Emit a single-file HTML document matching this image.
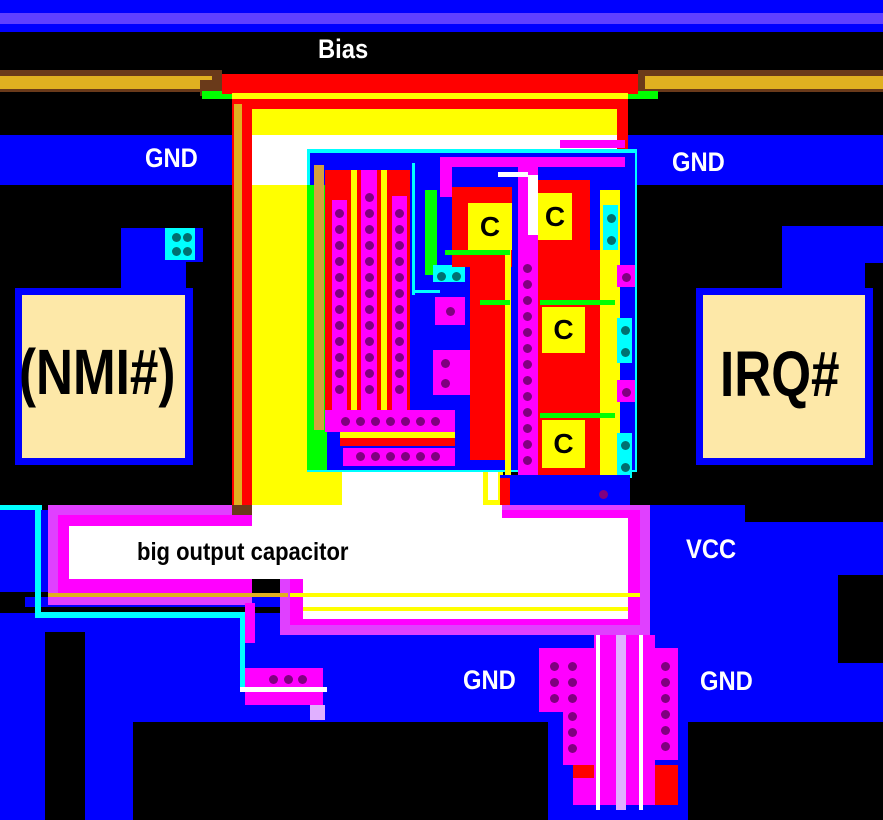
<!DOCTYPE html>
<html><head><meta charset="utf-8"><style>
body{margin:0;width:883px;height:820px;background:#000;overflow:hidden;position:relative;font-family:"Liberation Sans",sans-serif;font-weight:bold}
div{position:absolute;box-sizing:border-box}
.t{color:#fff;font-size:27px;white-space:nowrap;line-height:1;transform:scaleX(0.88);transform-origin:0 0}
.dot{width:9px;height:9px;border-radius:50%;background:#800080}
.td{width:9px;height:9px;border-radius:50%;background:#007070}
.c{font-size:28px;color:#000;display:flex;align-items:center;justify-content:center;background:#ff0}
</style></head><body>
<!-- top bands -->
<div style="left:0;top:0;width:883px;height:32px;background:#0000ff"></div>
<div style="left:0;top:13px;width:883px;height:11px;background:#6040ff"></div>
<div class="t" style="left:318px;top:36px">Bias</div>
<!-- orange bars -->
<div style="left:0;top:70px;width:222px;height:22px;background:#6a3a1a"></div>
<div style="left:0;top:76px;width:212px;height:13px;background:#e0b020"></div>
<div style="left:200px;top:80px;width:22px;height:16px;background:#6a3a1a"></div>
<div style="left:202px;top:91px;width:30px;height:8px;background:#00ff00"></div>
<div style="left:638px;top:70px;width:245px;height:22px;background:#6a3a1a"></div>
<div style="left:645px;top:76px;width:238px;height:13px;background:#e0b020"></div>
<div style="left:628px;top:91px;width:30px;height:8px;background:#00ff00"></div>
<!-- GND blue bands -->
<div style="left:0;top:135px;width:240px;height:50px;background:#0000ff"></div>
<div style="left:628px;top:135px;width:255px;height:50px;background:#0000ff"></div>
<div class="t" style="left:145px;top:145px">GND</div>
<div class="t" style="left:672px;top:149px">GND</div>
<!-- red big -->
<div style="left:222px;top:74px;width:416px;height:20px;background:#ff0000"></div>
<div style="left:232px;top:93px;width:396px;height:6px;background:#ff0"></div>
<div style="left:232px;top:99px;width:396px;height:50px;background:#ff0000"></div>
<div style="left:232px;top:99px;width:20px;height:420px;background:#ff0000"></div>
<div style="left:234px;top:104px;width:8px;height:410px;background:#e0b020"></div>
<div style="left:252px;top:109px;width:365px;height:26px;background:#ff0"></div>
<div style="left:252px;top:135px;width:365px;height:15px;background:#fff"></div>
<div style="left:252px;top:150px;width:56px;height:35px;background:#fff"></div>
<div style="left:252px;top:185px;width:56px;height:290px;background:#ff0"></div>
<div style="left:252px;top:470px;width:90px;height:40px;background:#ff0"></div>
<div style="left:560px;top:140px;width:65px;height:8px;background:#f0f"></div>
<div style="left:342px;top:472px;width:141px;height:40px;background:#fff"></div>
<div style="left:483px;top:470px;width:20px;height:40px;background:#ff0"></div>
<div style="left:488px;top:470px;width:10px;height:30px;background:#fff"></div>
<!-- inner block -->
<div style="left:307px;top:149px;width:330px;height:323px;background:#00ffff"></div>
<div style="left:310px;top:153px;width:325px;height:317px;background:#0000ff"></div>
<div style="left:307px;top:185px;width:20px;height:285px;background:#00ff00"></div>
<div style="left:314px;top:165px;width:10px;height:265px;background:#d4a040"></div>
<div style="left:325px;top:170px;width:85px;height:262px;background:#ff0000"></div>
<div style="left:351px;top:170px;width:6px;height:240px;background:#ff0"></div>
<div style="left:381px;top:170px;width:6px;height:240px;background:#ff0"></div>
<div style="left:332px;top:200px;width:15px;height:210px;background:#f0f"></div>
<div style="left:361px;top:170px;width:16px;height:245px;background:#f0f"></div>
<div style="left:392px;top:196px;width:15px;height:215px;background:#f0f"></div>
<div style="left:325px;top:410px;width:130px;height:22px;background:#f0f"></div>
<div style="left:340px;top:432px;width:115px;height:6px;background:#ff0"></div>
<div style="left:340px;top:438px;width:115px;height:8px;background:#ff0000"></div>
<div style="left:343px;top:448px;width:112px;height:18px;background:#f0f"></div>
<div style="left:412px;top:163px;width:3px;height:132px;background:#00ffff"></div>
<div style="left:415px;top:290px;width:25px;height:3px;background:#00ffff"></div>
<div style="left:425px;top:190px;width:12px;height:85px;background:#00ff00"></div>
<div style="left:433px;top:265px;width:32px;height:17px;background:#00ffff"></div>
<div style="left:435px;top:297px;width:30px;height:28px;background:#f0f"></div>
<div style="left:433px;top:350px;width:50px;height:45px;background:#f0f"></div>
<div style="left:440px;top:157px;width:185px;height:10px;background:#f0f"></div>
<div style="left:440px;top:157px;width:12px;height:40px;background:#f0f"></div>
<!-- C area reds -->
<div style="left:452px;top:187px;width:60px;height:80px;background:#ff0000"></div>
<div style="left:525px;top:180px;width:65px;height:70px;background:#ff0000"></div>
<div style="left:470px;top:260px;width:40px;height:200px;background:#ff0000"></div>
<div style="left:538px;top:250px;width:80px;height:120px;background:#ff0000"></div>
<div style="left:538px;top:368px;width:80px;height:112px;background:#ff0000"></div>
<div style="left:600px;top:190px;width:20px;height:290px;background:#ff0"></div>
<div style="left:505px;top:250px;width:6px;height:230px;background:#ff0"></div>
<div style="left:480px;top:300px;width:30px;height:5px;background:#00ff00"></div>
<div style="left:445px;top:250px;width:65px;height:5px;background:#00ff00"></div>
<div style="left:540px;top:300px;width:75px;height:5px;background:#00ff00"></div>
<div style="left:540px;top:413px;width:75px;height:5px;background:#00ff00"></div>
<div style="left:518px;top:157px;width:20px;height:320px;background:#f0f"></div>
<div style="left:498px;top:172px;width:30px;height:5px;background:#fff"></div>
<div style="left:528px;top:175px;width:10px;height:60px;background:#fff"></div>
<div class="c" style="left:468px;top:203px;width:44px;height:47px">C</div>
<div class="c" style="left:538px;top:193px;width:34px;height:47px">C</div>
<div class="c" style="left:542px;top:307px;width:43px;height:46px">C</div>
<div class="c" style="left:542px;top:420px;width:43px;height:48px">C</div>
<div style="left:603px;top:205px;width:15px;height:45px;background:#00ffff"></div>
<div style="left:617px;top:318px;width:15px;height:45px;background:#00ffff"></div>
<div style="left:617px;top:433px;width:15px;height:45px;background:#00ffff"></div>
<div style="left:617px;top:265px;width:18px;height:22px;background:#f0f"></div>
<div style="left:617px;top:380px;width:18px;height:22px;background:#f0f"></div>
<div style="left:593px;top:485px;width:20px;height:18px;background:#f0f"></div>
<div style="left:500px;top:475px;width:130px;height:30px;background:#0000ff"></div>
<div style="left:500px;top:478px;width:10px;height:30px;background:#ff0000"></div>
<!-- NMI -->
<div style="left:121px;top:228px;width:82px;height:34px;background:#0000ff"></div>
<div style="left:121px;top:260px;width:65px;height:32px;background:#0000ff"></div>
<div style="left:165px;top:228px;width:30px;height:32px;background:#00ffff"></div>
<div style="left:15px;top:288px;width:178px;height:177px;background:#0000ff"></div>
<div style="left:22px;top:295px;width:163px;height:163px;background:#fde8a8"></div>
<div style="left:19px;top:340px;font-size:64px;line-height:1;color:#000;white-space:nowrap;transform:scaleX(0.8);transform-origin:0 0">(NMI#)</div>
<!-- IRQ -->
<div style="left:782px;top:226px;width:101px;height:64px;background:#0000ff"></div>
<div style="left:865px;top:263px;width:18px;height:27px;background:#000"></div>
<div style="left:696px;top:288px;width:177px;height:177px;background:#0000ff"></div>
<div style="left:703px;top:295px;width:162px;height:163px;background:#fde8a8"></div>
<div style="left:720px;top:342px;font-size:64px;line-height:1;color:#000;white-space:nowrap;transform:scaleX(0.8);transform-origin:0 0">IRQ#</div>
<!-- bottom blue -->
<div style="left:0;top:510px;width:48px;height:82px;background:#0000ff"></div>
<div style="left:650px;top:505px;width:95px;height:70px;background:#0000ff"></div>
<div style="left:650px;top:522px;width:233px;height:53px;background:#0000ff"></div>
<div class="t" style="left:686px;top:536px">VCC</div>
<div style="left:0;top:613px;width:883px;height:110px;background:#0000ff"></div>
<div style="left:650px;top:575px;width:188px;height:40px;background:#0000ff"></div>
<div style="left:838px;top:613px;width:45px;height:50px;background:#000"></div>
<div style="left:0;top:720px;width:883px;height:100px;background:#0000ff"></div>
<div style="left:45px;top:632px;width:40px;height:188px;background:#000"></div>
<div style="left:133px;top:722px;width:415px;height:98px;background:#000"></div>
<div style="left:688px;top:722px;width:195px;height:98px;background:#000"></div>
<div style="left:25px;top:597px;width:635px;height:10px;background:#0000ff"></div>
<!-- capacitor -->
<div style="left:48px;top:505px;width:204px;height:100px;background:#e040ff"></div>
<div style="left:232px;top:505px;width:20px;height:10px;background:#6a3a1a"></div>
<div style="left:280px;top:505px;width:370px;height:130px;background:#e040ff"></div>
<div style="left:58px;top:515px;width:194px;height:80px;background:#f0f"></div>
<div style="left:290px;top:510px;width:350px;height:115px;background:#f0f"></div>
<div style="left:69px;top:526px;width:559px;height:53px;background:#fff"></div>
<div style="left:252px;top:505px;width:250px;height:25px;background:#fff"></div>
<div style="left:502px;top:518px;width:126px;height:15px;background:#fff"></div>
<div style="left:303px;top:579px;width:325px;height:40px;background:#fff"></div>
<div style="left:290px;top:593px;width:350px;height:4px;background:#ff0"></div>
<div style="left:48px;top:593px;width:240px;height:4px;background:#e0b020"></div>
<div style="left:303px;top:607px;width:325px;height:4px;background:#ff0"></div>
<div style="left:303px;top:597px;width:325px;height:10px;background:#fff"></div>
<div style="left:137px;top:540px;font-size:25px;line-height:1;color:#000;white-space:nowrap;transform:scaleX(0.88);transform-origin:0 0">big output capacitor</div>
<!-- cyan wire -->
<div style="left:0;top:505px;width:42px;height:5px;background:#00ffff"></div>
<div style="left:35px;top:505px;width:6px;height:113px;background:#00ffff"></div>
<div style="left:35px;top:612px;width:210px;height:6px;background:#00ffff"></div>
<div style="left:240px;top:612px;width:5px;height:80px;background:#00ffff"></div>
<div style="left:245px;top:603px;width:10px;height:40px;background:#f0f"></div>
<!-- small magenta block -->
<div style="left:245px;top:668px;width:78px;height:37px;background:#f0f"></div>
<div style="left:240px;top:687px;width:87px;height:5px;background:#fff"></div>
<div style="left:310px;top:705px;width:15px;height:15px;background:#e0b0ff"></div>
<!-- bottom pads -->
<div style="left:539px;top:648px;width:55px;height:64px;background:#f0f"></div>
<div style="left:563px;top:700px;width:31px;height:65px;background:#f0f"></div>
<div style="left:655px;top:648px;width:23px;height:112px;background:#f0f"></div>
<div style="left:573px;top:765px;width:105px;height:40px;background:#ff0000"></div>
<div style="left:573px;top:778px;width:80px;height:27px;background:#f0f"></div>
<div style="left:594px;top:635px;width:61px;height:170px;background:#f0f"></div>
<div style="left:596px;top:635px;width:4px;height:175px;background:#fff"></div>
<div style="left:616px;top:635px;width:10px;height:175px;background:#e0b0ff"></div>
<div style="left:639px;top:635px;width:4px;height:175px;background:#fff"></div>
<div class="t" style="left:463px;top:667px">GND</div>
<div class="t" style="left:700px;top:668px">GND</div>
<div id="dots"></div>
<script>
var d=document.getElementById('dots'),h='';
function dot(x,y,c){h+='<div class="'+(c||'dot')+'" style="left:'+(x-4)+'px;top:'+(y-4)+'px"></div>';}
for(var y=213;y<=395;y+=16){dot(339,y);dot(399,y);}
for(var y=197;y<=395;y+=16)dot(369,y);
for(var x=345;x<=442;x+=15)dot(x,421);
for(var x=360;x<=437;x+=15)dot(x,456);
for(var y=268;y<=468;y+=16)dot(527,y);
dot(450,311);dot(445,363);dot(445,383);dot(626,277);dot(626,392);dot(603,494);
dot(176,237,'td');dot(187,237,'td');dot(176,251,'td');dot(187,251,'td');
dot(441,276,'td');dot(456,276,'td');
dot(611,218,'td');dot(611,240,'td');dot(625,330,'td');dot(625,352,'td');dot(625,445,'td');dot(625,467,'td');
dot(273,679);dot(288,679);dot(302,679);
for(var y=666;y<=700;y+=16){dot(554,y);dot(572,y);}
for(var y=716;y<=750;y+=16)dot(572,y);
for(var y=666;y<=750;y+=16)dot(665,y);
d.innerHTML=h;
</script>
</body></html>
